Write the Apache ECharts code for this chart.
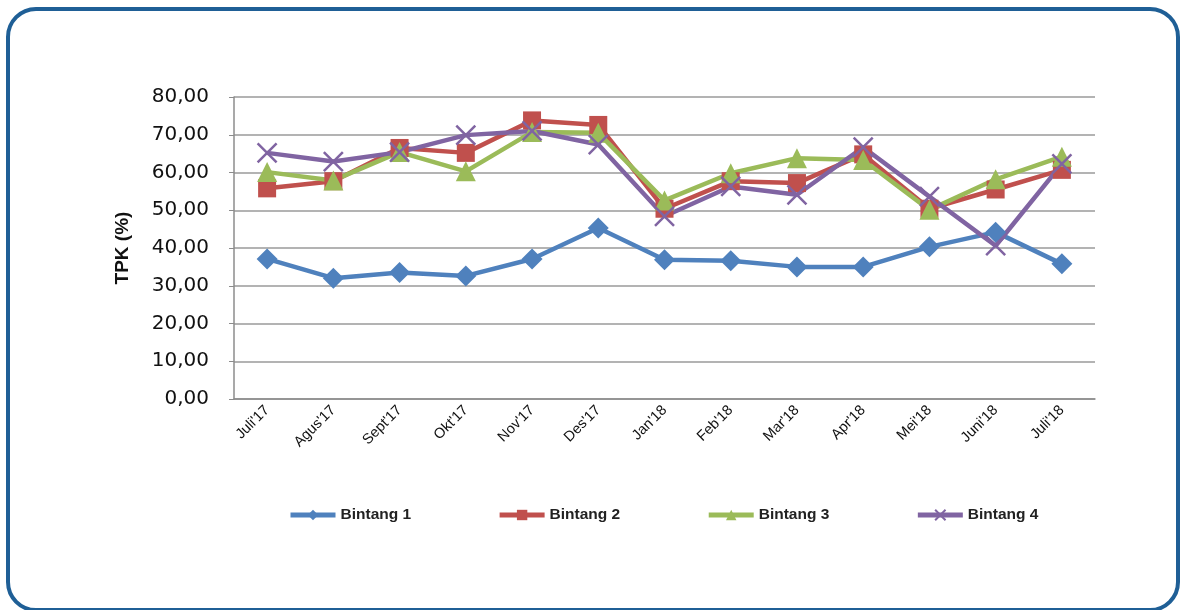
<!DOCTYPE html>
<html>
<head>
<meta charset="utf-8">
<script src="https://cdn.jsdelivr.net/npm/echarts@6/dist/echarts.min.js"></script>
<style>
html,body{margin:0;padding:0;background:#fff;}
#frame{position:absolute;left:6px;top:7px;width:1166px;height:597px;border:4px solid #1F5F96;border-radius:30px;}
#chart{position:absolute;left:0;top:0;width:1182px;height:610px;}
</style>
</head>
<body>
<div id="frame"></div>
<div id="chart"></div>
<script>
const categories = ["Juli'17","Agus'17","Sept'17","Okt'17","Nov'17","Des'17","Jan'18","Feb'18","Mar'18","Apr'18","Mei'18","Juni'18","Juli'18"];
const bintang1 = [37.1, 32.0, 33.5, 32.6, 37.1, 45.3, 36.9, 36.6, 35.0, 35.0, 40.3, 44.2, 35.8];
const bintang2 = [55.8, 57.7, 66.5, 65.2, 73.8, 72.6, 50.4, 57.7, 57.2, 64.8, 50.4, 55.5, 60.7];
const bintang3 = [60.1, 57.9, 65.4, 60.3, 70.7, 70.5, 52.6, 59.8, 63.8, 63.3, 50.1, 58.2, 64.2];
const bintang4 = [65.2, 62.9, 65.4, 69.9, 71.0, 67.4, 48.4, 56.3, 54.1, 66.7, 53.6, 40.6, 62.3];
const yTicks = {min: 0, max: 80, interval: 10};

const crossPath = 'path://M0,0 L10,10 M10,0 L0,10';

function mk(name, data, color, symbol, size, extra) {
  return Object.assign({
    name: name,
    type: 'line',
    data: data,
    symbol: symbol,
    symbolSize: size,
    lineStyle: {color: color, width: 4.5},
    itemStyle: {color: color},
    z: 2
  }, extra || {});
}

const chart = echarts.init(document.getElementById('chart'), null, {renderer: 'canvas'});
chart.setOption({
  animation: false,
  backgroundColor: 'transparent',
  grid: {left: 234, right: 87, top: 97, bottom: 211},
  legend: {
    top: 502,
    left: 283,
    itemWidth: 45,
    itemHeight: 13,
    itemGap: 86,
    lineStyle: {width: 5},
    textStyle: {fontFamily: 'Liberation Sans', fontSize: 15.5, fontWeight: 'bold', color: '#222'},
    data: ['Bintang 1','Bintang 2','Bintang 3','Bintang 4']
  },
  xAxis: {
    type: 'category',
    data: categories,
    boundaryGap: true,
    axisLine: {lineStyle: {color: '#8c8c8c', width: 1.5}},
    axisTick: {show: false},
    axisLabel: {rotate: 45, interval: 0, margin: 9, fontFamily: 'Liberation Sans', fontSize: 14.5, color: '#111'}
  },
  yAxis: {
    type: 'value',
    min: yTicks.min, max: yTicks.max, interval: yTicks.interval,
    name: 'TPK (%)',
    nameLocation: 'middle',
    nameGap: 102,
    nameRotate: 90,
    nameTextStyle: {fontFamily: 'Liberation Sans', fontSize: 19, fontWeight: 'bold', color: '#111'},
    axisLine: {show: true, lineStyle: {color: '#8c8c8c', width: 1.5}},
    axisTick: {show: true, length: 5, lineStyle: {color: '#8c8c8c'}},
    splitLine: {lineStyle: {color: '#9a9a9a', width: 1.5}},
    axisLabel: {
      margin: 25,
      fontFamily: 'DejaVu Sans', fontSize: 20, color: '#111',
      formatter: function(v){ return v.toFixed(2).replace('.', ','); }
    }
  },
  series: [
    mk('Bintang 1', bintang1, '#4F81BD', 'diamond', 21),
    mk('Bintang 2', bintang2, '#C0504D', 'rect', 18),
    mk('Bintang 3', bintang3, '#9BBB59', 'triangle', 20),
    mk('Bintang 4', bintang4, '#8064A2', crossPath, 19, {
      itemStyle: {color: 'none', borderColor: '#8064A2', borderWidth: 2.5}
    })
  ]
});
</script>
</body>
</html>
